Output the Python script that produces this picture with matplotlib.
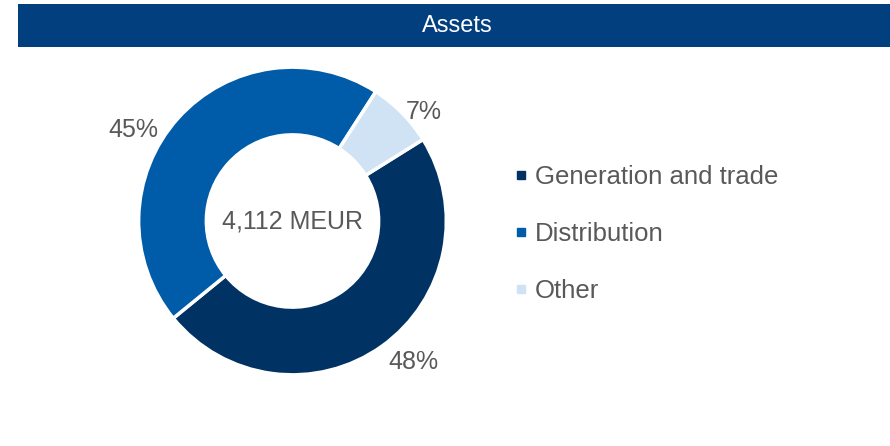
import numpy as np
import matplotlib
matplotlib.use("Agg")
import matplotlib.pyplot as plt
from matplotlib.patches import Rectangle
from matplotlib.lines import Line2D

plt.rcParams['font.family'] = ['Liberation Sans', 'DejaVu Sans']

title = "Assets"
categories = ["Generation and trade", "Distribution", "Other"]
values = [48, 45, 7]
labels = ["48%", "45%", "7%"]
center_text = "4,112 MEUR"
colors = ["#003263", "#005CA9", "#CFE3F4"]
text_gray = "#595959"

W, H = 890, 446
fig = plt.figure(figsize=(W / 100, H / 100), dpi=100)

# title bar
fig.patches.append(Rectangle((18 / W, (H - 47) / H), 1 - 18 / W, 43 / H,
                             transform=fig.transFigure, facecolor="#013F7E",
                             edgecolor="none", zorder=0))
fig.text(457 / W, (H - 26) / H, title, color="white", fontsize=17,
         ha="center", va="center")

cx, cy, half = 292.5, 221, 160
ax = fig.add_axes([(cx - half) / W, (H - cy - half) / H, 2 * half / W, 2 * half / H])
wedges, _ = ax.pie(values, colors=colors, startangle=32, counterclock=False,
                   radius=1, wedgeprops=dict(width=0.44, edgecolor="white", linewidth=2.5))
ax.set_xlim(-1.04, 1.04)
ax.set_ylim(-1.04, 1.04)
ax.set_aspect("equal")
ax.axis("off")

# percentage labels outside the wedges
offsets = [5, 12, -5]      # angular shift (deg)
dists = [1.21, 1.19, 1.11]
for w, lab, off, d in zip(wedges, labels, offsets, dists):
    ang = np.deg2rad((w.theta1 + w.theta2) / 2 + off)
    ax.text(d * np.cos(ang), d * np.sin(ang), lab, fontsize=18, color=text_gray,
            ha="center", va="center")

ax.text(0, 0, center_text, fontsize=18, color=text_gray, ha="center", va="center")

handles = [Line2D([], [], marker="s", linestyle="none", markersize=6,
                  markerfacecolor=c, markeredgecolor=c) for c in colors]
leg = fig.legend(handles, categories, loc="center left",
                 bbox_to_anchor=(489 / W, (H - 234) / H), frameon=False,
                 fontsize=18.5, labelspacing=1.3, handletextpad=0.2,
                 handlelength=0.7, labelcolor=text_gray)

fig.savefig("out.png", dpi=100)
